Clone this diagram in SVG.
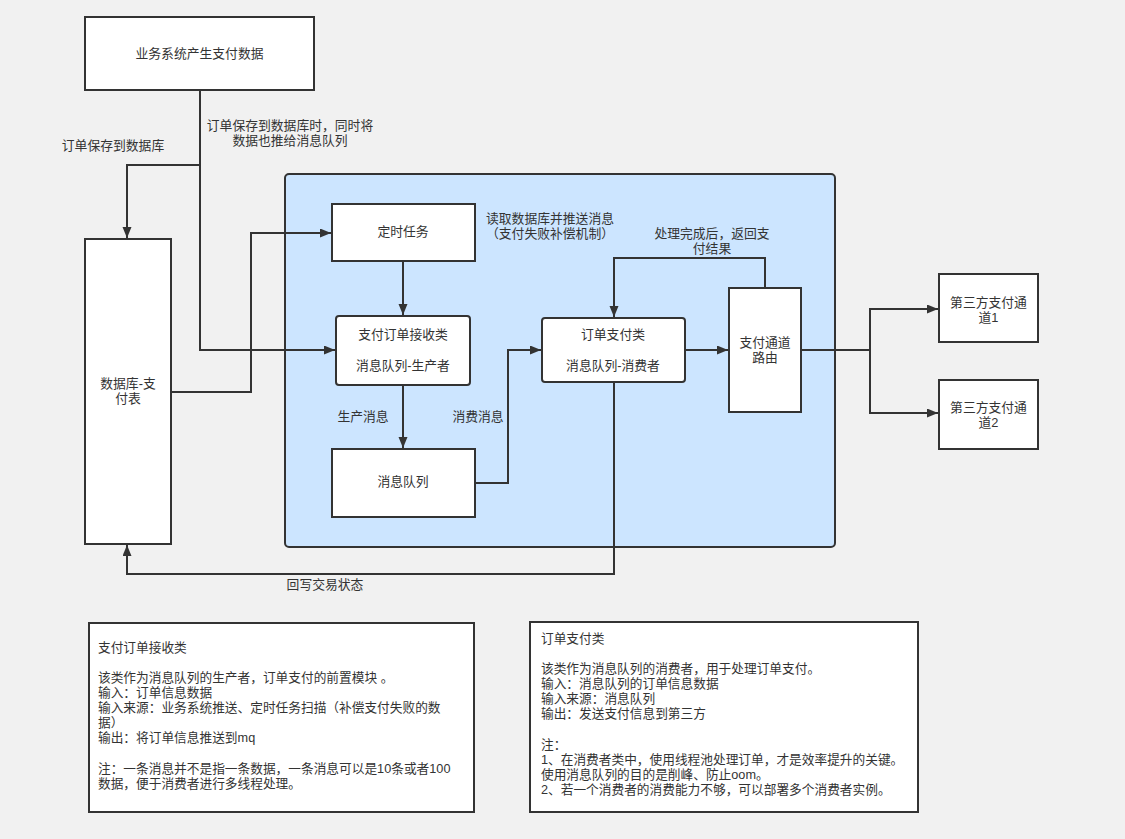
<svg xmlns="http://www.w3.org/2000/svg" width="1125" height="839" viewBox="0 0 1125 839">
<style>
text{font-family:"Liberation Sans","Noto Sans CJK SC",sans-serif;font-size:12.8px;fill:#333;}
.c{text-anchor:middle;dominant-baseline:central;}
.n{fill:#fff;stroke:#333;stroke-width:2;}
.e{fill:none;stroke:#333;stroke-width:2;}
.a{marker-end:url(#arr);}
.note text{font-size:12.7px;}
</style>
<defs>
<marker id="arr" markerUnits="userSpaceOnUse" markerWidth="12" markerHeight="10" refX="11" refY="4.5" orient="auto">
<path d="M0,0 L11,4.5 L0,9 z" fill="#333"/>
</marker>
</defs>
<rect x="0" y="0" width="1125" height="839" fill="#f1f1f1"/>
<g id="container"><rect x="285" y="174" width="550" height="373" rx="4" fill="#cce5ff" stroke="#333" stroke-width="2"/></g>

<g id="connectors">
<path class="e a" d="M200,90 V350 H335"/>
<path class="e a" d="M200,165 H127 V238"/>
<path class="e a" d="M171,392 H251 V233 H331"/>
<path class="e a" d="M403,261 V315"/>
<path class="e a" d="M403,385 V448"/>
<path class="e a" d="M475,483 H508 V350 H541"/>
<path class="e a" d="M685,350 H728"/>
<path class="e a" d="M765,288 V258 H614 V317"/>
<path class="e a" d="M614,382 V574 H127 V545"/>
<path class="e" d="M801,350 H870"/>
<path class="e a" d="M870,350 V309 H938"/>
<path class="e a" d="M870,350 V413 H938"/>
</g>

<g id="labels">
<text class="c" x="290" y="125">订单保存到数据库时，同时将</text>
<text class="c" x="290" y="140">数据也推给消息队列</text>
<text class="c" x="113" y="145">订单保存到数据库</text>
<text class="c" x="550" y="218">读取数据库并推送消息</text>
<text class="c" x="550" y="233">（支付失败补偿机制）</text>
<text class="c" x="712" y="233">处理完成后，返回支</text>
<text class="c" x="712" y="248">付结果</text>
<text class="c" x="363" y="416">生产消息</text>
<text class="c" x="478" y="416">消费消息</text>
<text class="c" x="325" y="584">回写交易状态</text>
</g>

<g id="n-biz"><rect class="n" x="85" y="17" width="229" height="73"/><text class="c" x="199.5" y="53">业务系统产生支付数据</text></g>
<g id="n-db"><rect class="n" x="85" y="239" width="86" height="305"/><text class="c" x="128" y="383">数据库-支</text><text class="c" x="128" y="398">付表</text></g>
<g id="n-timer"><rect class="n" x="332" y="204" width="143" height="57"/><text class="c" x="403" y="231">定时任务</text></g>
<g id="n-recv"><rect class="n" x="336" y="316" width="134" height="69" rx="3"/><text class="c" x="403" y="334">支付订单接收类</text><text class="c" x="403" y="365">消息队列-生产者</text></g>
<g id="n-mq"><rect class="n" x="332" y="449" width="143" height="68"/><text class="c" x="403" y="481">消息队列</text></g>
<g id="n-pay"><rect class="n" x="542" y="318" width="143" height="64" rx="3"/><text class="c" x="613" y="334">订单支付类</text><text class="c" x="613" y="365">消息队列-消费者</text></g>
<g id="n-route"><rect class="n" x="729" y="288" width="72" height="124"/><text class="c" x="765" y="342">支付通道</text><text class="c" x="765" y="357">路由</text></g>
<g id="n-ch1"><rect class="n" x="939" y="274" width="99" height="68"/><text class="c" x="988.5" y="302">第三方支付通</text><text class="c" x="988.5" y="317">道1</text></g>
<g id="n-ch2"><rect class="n" x="939" y="380" width="99" height="69"/><text class="c" x="988.5" y="407">第三方支付通</text><text class="c" x="988.5" y="422">道2</text></g>

<g id="note1" class="note"><rect class="n" x="89" y="623" width="385" height="189"/>
<text x="98" y="651.5">支付订单接收类</text>
<text x="98" y="681.5">该类作为消息队列的生产者，订单支付的前置模块 。</text>
<text x="98" y="696.5">输入：订单信息数据</text>
<text x="98" y="711.5">输入来源：业务系统推送、定时任务扫描（补偿支付失败的数</text>
<text x="98" y="726.5">据）</text>
<text x="98" y="741.5">输出：将订单信息推送到mq</text>
<text x="98" y="772.5">注：一条消息并不是指一条数据，一条消息可以是10条或者100</text>
<text x="98" y="787.5">数据，便于消费者进行多线程处理。</text>
</g>
<g id="note2" class="note"><rect class="n" x="530" y="622" width="388" height="190"/>
<text x="541" y="642.5">订单支付类</text>
<text x="541" y="672.5">该类作为消息队列的消费者，用于处理订单支付。</text>
<text x="541" y="687.5">输入：消息队列的订单信息数据</text>
<text x="541" y="702.5">输入来源：消息队列</text>
<text x="541" y="717.5">输出：发送支付信息到第三方</text>
<text x="541" y="748.5">注：</text>
<text x="541" y="763.5">1、在消费者类中，使用线程池处理订单，才是效率提升的关键。</text>
<text x="541" y="778.5">使用消息队列的目的是削峰、防止oom。</text>
<text x="541" y="793.5">2、若一个消费者的消费能力不够，可以部署多个消费者实例。</text>
</g>
</svg>
